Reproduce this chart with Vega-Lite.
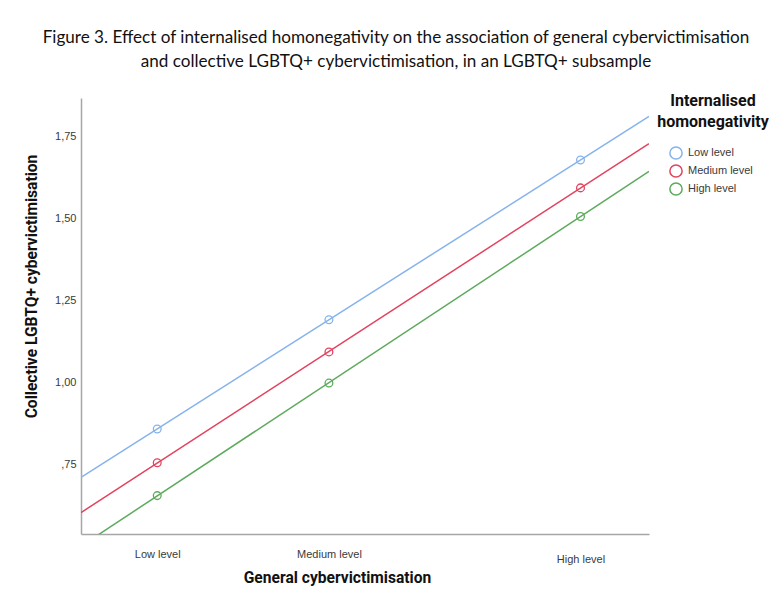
{
  "$schema": "https://vega.github.io/schema/vega-lite/v6.json",
  "width": 568,
  "height": 436,
  "autosize": {"type": "none"},
  "padding": {"left": 81, "top": 98, "right": 128, "bottom": 68},
  "background": "white",
  "config": {"view": {"stroke": null}},
  "title": {
    "text": ["Figure 3. Effect of internalised homonegativity on the association of general cybervictimisation", "and collective LGBTQ+ cybervictimisation, in an LGBTQ+ subsample"],
    "font": "Lato",
    "fontSize": 17.1,
    "fontWeight": "normal",
    "color": "#111111",
    "lineHeight": 24,
    "anchor": "middle",
    "frame": "group",
    "dx": 31,
    "offset": 23
  },
  "data": {
    "values": [
      {"gen": -1, "coll": 0.858, "level": "Low level"},
      {"gen": 0, "coll": 1.191, "level": "Low level"},
      {"gen": 1.465, "coll": 1.678, "level": "Low level"},
      {"gen": -1, "coll": 0.755, "level": "Medium level"},
      {"gen": 0, "coll": 1.093, "level": "Medium level"},
      {"gen": 1.465, "coll": 1.593, "level": "Medium level"},
      {"gen": -1, "coll": 0.655, "level": "High level"},
      {"gen": 0, "coll": 0.998, "level": "High level"},
      {"gen": 1.465, "coll": 1.506, "level": "High level"}
    ]
  },
  "encoding": {
    "x": {
      "field": "gen",
      "type": "quantitative",
      "scale": {"domain": [-1.444, 1.864], "nice": false, "zero": false},
      "axis": {
        "title": "General cybervictimisation",
        "values": [-1, 0, 1.465],
        "labelExpr": "datum.value < -0.5 ? 'Low level' : (datum.value < 0.5 ? 'Medium level' : 'High level')",
        "grid": false,
        "ticks": false,
        "domainColor": "#a6a6a6",
        "domainWidth": 1.5,
        "labelFont": "Liberation Sans",
        "labelFontSize": 11,
        "labelColor": "#3a3a3a",
        "labelPadding": {"condition": {"test": "datum.value > 1", "value": 19}, "value": 14},
        "titleFont": "Roboto",
        "titleFontSize": 15.6,
        "titleFontWeight": "bold",
        "titleColor": "#111111",
        "titleX": 256,
        "titleY": 43,
        "titleAlign": "center",
        "titleBaseline": "middle"
      }
    },
    "y": {
      "field": "coll",
      "type": "quantitative",
      "scale": {"domain": [0.538, 1.867], "nice": false, "zero": false},
      "axis": {
        "title": "Collective LGBTQ+ cybervictimisation",
        "values": [0.75, 1, 1.25, 1.5, 1.75],
        "labelExpr": "datum.value < 1 ? replace(format(datum.value, '.2f'), '0.', ',') : replace(format(datum.value, '.2f'), '.', ',')",
        "grid": false,
        "ticks": false,
        "domainColor": "#a6a6a6",
        "domainWidth": 1.5,
        "labelFont": "Liberation Sans",
        "labelFontSize": 11,
        "labelColor": "#3a3a3a",
        "labelPadding": 5,
        "titleFont": "Roboto",
        "titleFontSize": 15.6,
        "titleFontWeight": "bold",
        "titleColor": "#111111",
        "titleX": -50,
        "titleY": 188,
        "titleAngle": -90,
        "titleAlign": "center",
        "titleBaseline": "middle"
      }
    },
    "color": {
      "field": "level",
      "type": "nominal",
      "scale": {
        "domain": ["Low level", "Medium level", "High level"],
        "range": ["#86b3ec", "#e2435f", "#5daa5d"]
      },
      "legend": {
        "title": ["Internalised", "homonegativity"],
        "orient": "none",
        "legendX": 576,
        "legendY": -5,
        "titleFont": "Roboto",
        "titleFontSize": 16,
        "titleFontWeight": "bold",
        "titleColor": "#111111",
        "titleLineHeight": 21,
        "titleAlign": "center",
        "titleAnchor": "middle",
        "titlePadding": 16,
        "labelFont": "Liberation Sans",
        "labelFontSize": 11,
        "labelColor": "#3a3a3a",
        "labelOffset": 5,
        "symbolType": "circle",
        "symbolSize": 150,
        "symbolStrokeWidth": 1.5,
        "symbolFillColor": "transparent",
        "symbolOffset": -4,
        "rowPadding": -2
      }
    }
  },
  "layer": [
    {
      "transform": [
        {"regression": "coll", "on": "gen", "groupby": ["level"], "extent": [-1.444, 1.864]}
      ],
      "mark": {"type": "line", "strokeWidth": 1.5, "clip": true},
      "encoding": {}
    },
    {
      "mark": {"type": "point", "shape": "circle", "filled": false, "size": 60, "strokeWidth": 1.3, "opacity": 1}
    }
  ]
}
